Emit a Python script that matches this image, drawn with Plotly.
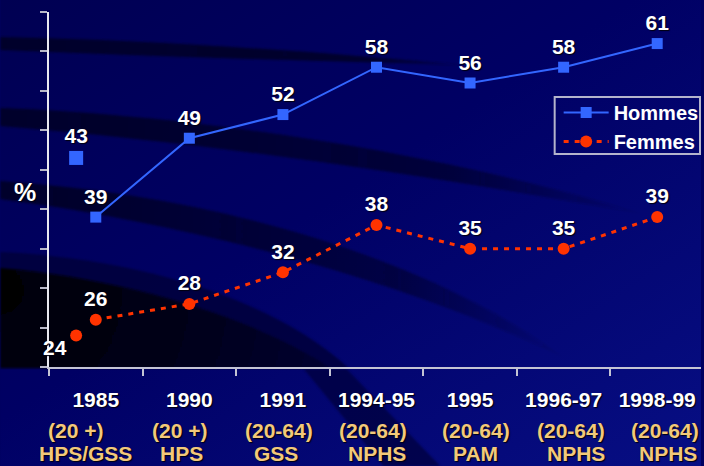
import base64
import plotly.graph_objects as go

# ---------------- data ----------------
years = ["1985", "1990", "1991", "1994-95", "1995", "1996-97", "1998-99"]
ages = ["(20 +)", "(20 +)", "(20-64)", "(20-64)", "(20-64)", "(20-64)", "(20-64)"]
sources = ["HPS/GSS", "HPS", "GSS", "NPHS", "PAM", "NPHS", "NPHS"]

hommes = [39, 49, 52, 58, 56, 58, 61]
femmes = [26, 28, 32, 38, 35, 35, 39]

# separate 1985 (HPS) points, drawn slightly left of the 1985 category
hommes_1985_hps = [46.5]      # position
hommes_1985_hps_label = ["43"]
femmes_1985_hps = [24]

# ---------------- layout constants ----------------
W, H = 704, 466
ML, MR, MT, MB = 49, 0, 12, 99
PW, PH = W - ML - MR, H - MT - MB
XMIN = -0.5
XMAX = XMIN + PW / 94.0
YMIN, YMAX = 20, 65
HPS_OFF = -0.21

BLUE = "#3366ff"
RED = "#ff3300"
GOLD = "#f2c97a"
SHADOW = "1px 1px 1px #000010"
FONT = "Liberation Sans, Arial"

xs = list(range(len(years)))


def px_x(p):
    return (p - ML) / PW


def px_y(p):
    return (MT + PH - p) / PH


# ---------------- background (decorative swooshes) ----------------
svg = f'''<svg xmlns="http://www.w3.org/2000/svg" width="{W}" height="{H}" viewBox="0 0 {W} {H}" preserveAspectRatio="none">
<defs>
<linearGradient id="bg" x1="0" y1="0" x2="1" y2="1">
<stop offset="0" stop-color="#000052"/>
<stop offset="0.45" stop-color="#000064"/>
<stop offset="1" stop-color="#070e84"/>
</linearGradient>
<linearGradient id="fadeB" x1="0" y1="0" x2="1" y2="0">
<stop offset="0" stop-color="#00002a" stop-opacity="1"/>
<stop offset="0.7" stop-color="#00002a" stop-opacity="0.7"/>
<stop offset="1" stop-color="#00002a" stop-opacity="0"/>
</linearGradient>
<linearGradient id="fadeC" x1="0" y1="0" x2="1" y2="0">
<stop offset="0" stop-color="#00002a" stop-opacity="1"/>
<stop offset="0.7" stop-color="#00002a" stop-opacity="0.6"/>
<stop offset="1" stop-color="#00002a" stop-opacity="0"/>
</linearGradient>
<linearGradient id="fadeA" x1="0" y1="0" x2="1" y2="0">
<stop offset="0" stop-color="#00002a" stop-opacity="1"/>
<stop offset="0.8" stop-color="#00002a" stop-opacity="0.9"/>
<stop offset="1" stop-color="#00002a" stop-opacity="0.3"/>
</linearGradient>
<radialGradient id="dk" gradientUnits="userSpaceOnUse" cx="0" cy="290" r="360">
<stop offset="0" stop-color="#000004"/>
<stop offset="0.5" stop-color="#000018"/>
<stop offset="1" stop-color="#000034"/>
</radialGradient>
<filter id="b"><feGaussianBlur stdDeviation="1.0"/></filter>
</defs>
<rect width="{W}" height="{H}" fill="url(#bg)"/>
<path d="M0,252 C130,258 270,295 350,368 L0,368 Z" fill="#00003a" opacity="0.85" filter="url(#b)"/>
<path d="M0,268 C120,278 250,315 332,368 L0,368 Z" fill="url(#dk)" filter="url(#b)"/>
<path d="M305,369 L348,369 L442,466 L385,466 Z" fill="#00003a" opacity="0.7" filter="url(#b)"/>
<path d="M0,37 C150,40 300,50 465,65 C300,61 150,56 0,50 Z" fill="url(#fadeA)" filter="url(#b)"/>
<path d="M0,108 C160,113 420,145 650,215 C430,175 210,143 0,126 Z" fill="url(#fadeB)" filter="url(#b)"/>
<path d="M0,181 C200,194 420,250 570,360 C430,290 220,228 0,199 Z" fill="url(#fadeC)" filter="url(#b)"/>
</svg>'''
bg_uri = "data:image/svg+xml;base64," + base64.b64encode(svg.encode()).decode()

label_font = dict(family=FONT, size=21, color="white", weight="bold", shadow=SHADOW)

fig = go.Figure()

# Hommes main line
fig.add_trace(go.Scatter(
    x=xs, y=hommes, name="<b>Hommes</b>", legendgroup="h",
    mode="lines+markers+text",
    line=dict(color=BLUE, width=2),
    marker=dict(symbol="square", size=11, color=BLUE),
    text=[str(v) for v in hommes], textposition="top center",
    textfont=label_font, cliponaxis=False,
))
# Hommes 1985 HPS point
fig.add_trace(go.Scatter(
    x=[HPS_OFF], y=hommes_1985_hps, showlegend=False, legendgroup="h",
    mode="markers+text",
    marker=dict(symbol="square", size=14, color=BLUE),
    text=hommes_1985_hps_label, textposition="top center",
    textfont=label_font, cliponaxis=False,
))
# Femmes main line
fig.add_trace(go.Scatter(
    x=xs, y=femmes, name="<b>Femmes</b>", legendgroup="f",
    mode="lines+markers+text",
    line=dict(color=RED, width=3, dash="5px,6px"),
    marker=dict(symbol="circle", size=12, color=RED),
    text=[str(v) for v in femmes], textposition="top center",
    textfont=label_font, cliponaxis=False,
))
# Femmes 1985 HPS point (label placed below-left)
fig.add_trace(go.Scatter(
    x=[HPS_OFF], y=femmes_1985_hps, showlegend=False, legendgroup="f",
    mode="markers",
    marker=dict(symbol="circle", size=12, color=RED),
    cliponaxis=False,
))
fig.add_annotation(x=HPS_OFF, y=femmes_1985_hps[0], xref="x", yref="y",
                   text=f"<b>{femmes_1985_hps[0]}</b>", showarrow=False,
                   xanchor="right", yanchor="middle", xshift=-7, yshift=-12,
                   font=dict(family=FONT, size=21, color="white", shadow=SHADOW))

# second / third lines of the category labels
age_shift = [-20, -10, -4, -3, 6, 7, 8]
src_shift = [-10, -8, -7, 1, 5, 12, 11]
for i in xs:
    fig.add_annotation(x=i, xref="x", y=px_y(430), yref="paper", yanchor="middle",
                       text=f"<b>{ages[i]}</b>", showarrow=False, xshift=age_shift[i],
                       font=dict(family=FONT, size=21, color=GOLD, shadow=SHADOW))
    fig.add_annotation(x=i, xref="x", y=px_y(453), yref="paper", yanchor="middle",
                       text=f"<b>{sources[i]}</b>", showarrow=False, xshift=src_shift[i],
                       font=dict(family=FONT, size=21, color=GOLD, shadow=SHADOW))

fig.add_annotation(x=px_x(25), xref="paper", y=px_y(192), yref="paper",
                   text="<b>%</b>", showarrow=False, xanchor="center", yanchor="middle",
                   font=dict(family=FONT, size=25, color="white", shadow=SHADOW))

# legend frame
fig.add_shape(type="rect", xref="paper", yref="paper",
              x0=px_x(557), x1=px_x(703), y0=px_y(154), y1=px_y(97),
              line=dict(color="#b4b4cc", width=2), fillcolor="rgba(0,0,0,0)", layer="above")

fig.update_layout(
    width=W, height=H,
    margin=dict(l=ML, r=MR, t=MT, b=MB, pad=0),
    paper_bgcolor="#000060", plot_bgcolor="rgba(0,0,0,0)",
    images=[dict(source=bg_uri, xref="paper", yref="paper",
                 x=-ML / PW, y=1 + MT / PH, sizex=W / PW, sizey=H / PH,
                 xanchor="left", yanchor="top", sizing="stretch", layer="below")],
    showlegend=True,
    legend=dict(x=px_x(561), y=px_y(93), xanchor="left", yanchor="top",
                bgcolor="rgba(0,0,0,0)", borderwidth=0,
                font=dict(family=FONT, size=20, color="white"),
                tracegroupgap=0, itemwidth=45),
    xaxis=dict(range=[XMIN, XMAX], tickmode="array", tickvals=xs, ticktext=[f"<b>{y}</b>" for y in years],
               ticks="", ticklen=0, showgrid=False, zeroline=False,
               showline=True, linecolor="#c4c4d4", linewidth=2,
               tickfont=dict(family=FONT, size=21, color="white", shadow=SHADOW),
               ticklabelstandoff=13,
               minor=dict(tickmode="array", tickvals=[v - 0.5 for v in xs] + [len(xs) - 0.5],
                          ticks="outside", ticklen=7, tickcolor="#c4c4d4", tickwidth=1.5, showgrid=False)),
    yaxis=dict(range=[YMIN, YMAX], tickmode="linear", tick0=20, dtick=5,
               showticklabels=False, ticks="outside", ticklen=7, tickcolor="#b8b8c8", tickwidth=1.5,
               showgrid=False, zeroline=False, showline=True, linecolor="#e8e8f0", linewidth=1.5),
)

fig.write_html("out.html")
